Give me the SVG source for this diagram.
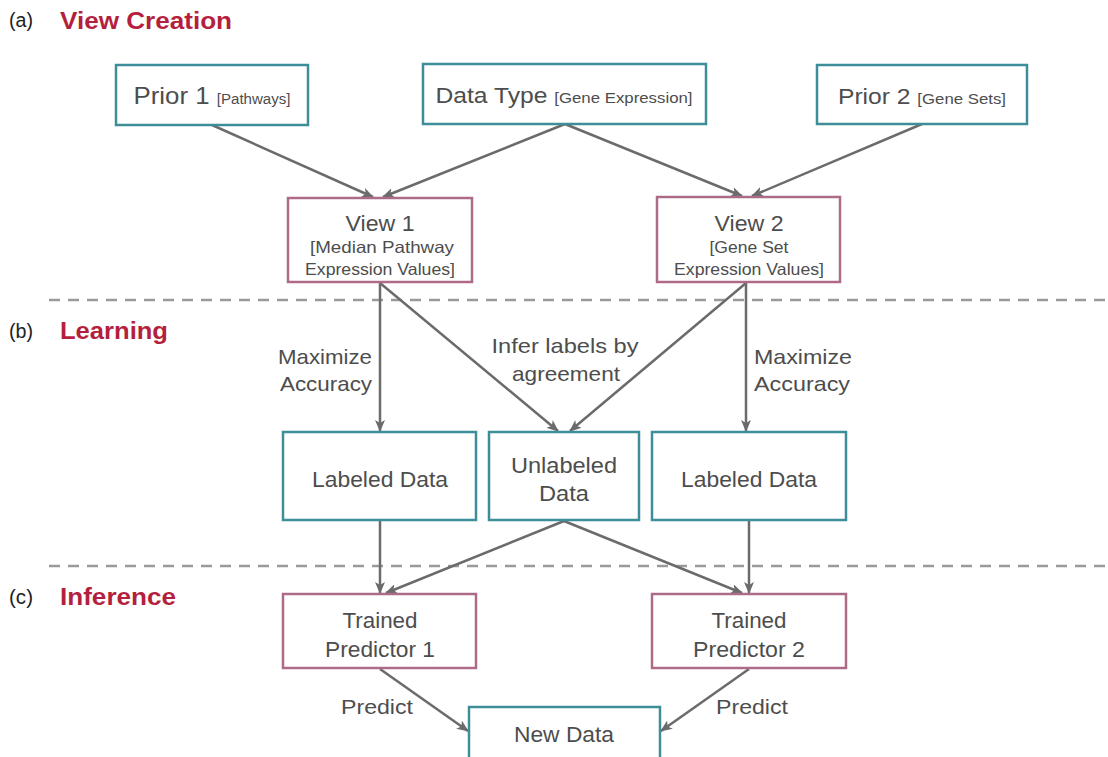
<svg xmlns="http://www.w3.org/2000/svg" width="1108" height="757" viewBox="0 0 1108 757">
<style>
text{font-family:"Liberation Sans",Arial,Helvetica,sans-serif;fill:#4d4d4d}
.t{font-size:22px;text-anchor:middle}
.s{font-size:15px}
.s2{font-size:14px}
.m{font-size:16.5px;text-anchor:middle}
.lbl{font-size:21px}
.sec{font-size:23px;font-weight:bold;fill:#b51f3e}
.pl{font-size:20px;fill:#222}
.teal{fill:#fff;stroke:#3e8e99;stroke-width:2.5}
.pink{fill:#fff;stroke:#ad6b87;stroke-width:2.5}
.c{stroke:#6b6b6b;stroke-width:2.5;fill:none;marker-end:url(#ah)}
.d{stroke:#9a9a9a;stroke-width:2.5;stroke-dasharray:11 8;fill:none}
</style>
<defs>
<marker id="ah" viewBox="0 0 12 10" refX="11" refY="5" markerWidth="12" markerHeight="10" markerUnits="userSpaceOnUse" orient="auto">
<path d="M0,0 L12,5 L0,10 L3,5 z" fill="#6b6b6b"/>
</marker>
</defs>
<rect width="1108" height="757" fill="#fff"/>
<g id="sections">
<text class="pl" x="9" y="27" textLength="24" lengthAdjust="spacingAndGlyphs">(a)</text>
<text class="sec" x="60" y="29" textLength="172" lengthAdjust="spacingAndGlyphs">View Creation</text>
<text class="pl" x="9" y="338" textLength="24" lengthAdjust="spacingAndGlyphs">(b)</text>
<text class="sec" x="60" y="339" textLength="108" lengthAdjust="spacingAndGlyphs">Learning</text>
<text class="pl" x="9" y="604" textLength="24" lengthAdjust="spacingAndGlyphs">(c)</text>
<text class="sec" x="60" y="605" textLength="116" lengthAdjust="spacingAndGlyphs">Inference</text>
<line class="d" x1="49" y1="300" x2="1108" y2="300"/>
<line class="d" x1="49" y1="566" x2="1108" y2="566"/>
</g>
<g id="connectors">
<line class="c" x1="212" y1="125" x2="373" y2="197"/>
<line class="c" x1="565" y1="124" x2="383" y2="197"/>
<line class="c" x1="565" y1="124" x2="742" y2="196"/>
<line class="c" x1="922" y1="124" x2="752" y2="196"/>
<line class="c" x1="380" y1="283" x2="380" y2="431"/>
<line class="c" x1="380" y1="283" x2="558" y2="431"/>
<line class="c" x1="746" y1="283" x2="570" y2="431"/>
<line class="c" x1="746" y1="283" x2="746" y2="431"/>
<line class="c" x1="380" y1="521" x2="380" y2="593"/>
<line class="c" x1="564" y1="521" x2="386" y2="593"/>
<line class="c" x1="564" y1="521" x2="742" y2="593"/>
<line class="c" x1="749" y1="521" x2="749" y2="593"/>
<line class="c" x1="380" y1="669" x2="468" y2="731"/>
<line class="c" x1="749" y1="669" x2="661" y2="731"/>
<text class="lbl" x="372" y="364" text-anchor="end" textLength="94" lengthAdjust="spacingAndGlyphs">Maximize</text>
<text class="lbl" x="372" y="391" text-anchor="end" textLength="92" lengthAdjust="spacingAndGlyphs">Accuracy</text>
<text class="lbl" x="754" y="364" textLength="98" lengthAdjust="spacingAndGlyphs">Maximize</text>
<text class="lbl" x="754" y="391" textLength="96" lengthAdjust="spacingAndGlyphs">Accuracy</text>
<text class="lbl" x="565" y="353" text-anchor="middle" textLength="147" lengthAdjust="spacingAndGlyphs">Infer labels by</text>
<text class="lbl" x="566" y="381" text-anchor="middle" textLength="108" lengthAdjust="spacingAndGlyphs">agreement</text>
<text class="lbl" x="377" y="714" text-anchor="middle" textLength="72" lengthAdjust="spacingAndGlyphs">Predict</text>
<text class="lbl" x="752" y="714" text-anchor="middle" textLength="72" lengthAdjust="spacingAndGlyphs">Predict</text>
</g>
<g id="prior1">
<rect class="teal" x="116" y="65" width="192" height="60"/>
<text class="t" x="212" y="104" style="font-size:24px" textLength="157" lengthAdjust="spacingAndGlyphs">Prior 1 <tspan class="s2">[Pathways]</tspan></text>
</g>
<g id="datatype">
<rect class="teal" x="423" y="64" width="283" height="60"/>
<text class="t" x="564" y="103" textLength="257" lengthAdjust="spacingAndGlyphs">Data Type <tspan class="s">[Gene Expression]</tspan></text>
</g>
<g id="prior2">
<rect class="teal" x="817" y="65" width="210" height="59"/>
<text class="t" x="922" y="104" textLength="168" lengthAdjust="spacingAndGlyphs">Prior 2 <tspan class="s">[Gene Sets]</tspan></text>
</g>
<g id="view1">
<rect class="pink" x="288" y="198" width="184" height="84"/>
<text class="t" x="380" y="231" textLength="69" lengthAdjust="spacingAndGlyphs">View 1</text>
<text class="m" x="382" y="253" textLength="144" lengthAdjust="spacingAndGlyphs">[Median Pathway</text>
<text class="m" x="380" y="275" textLength="150" lengthAdjust="spacingAndGlyphs">Expression Values]</text>
</g>
<g id="view2">
<rect class="pink" x="657" y="197" width="183" height="85"/>
<text class="t" x="749" y="231" textLength="69" lengthAdjust="spacingAndGlyphs">View 2</text>
<text class="m" x="749" y="253" textLength="79" lengthAdjust="spacingAndGlyphs">[Gene Set</text>
<text class="m" x="749" y="275" textLength="150" lengthAdjust="spacingAndGlyphs">Expression Values]</text>
</g>
<g id="labeled1">
<rect class="teal" x="283" y="432" width="193" height="88"/>
<text class="t" x="380" y="487" textLength="136" lengthAdjust="spacingAndGlyphs">Labeled Data</text>
</g>
<g id="unlabeled">
<rect class="teal" x="489" y="432" width="150" height="88"/>
<text class="t" x="564" y="473" textLength="106" lengthAdjust="spacingAndGlyphs">Unlabeled</text>
<text class="t" x="564" y="501" textLength="50" lengthAdjust="spacingAndGlyphs">Data</text>
</g>
<g id="labeled2">
<rect class="teal" x="652" y="432" width="194" height="88"/>
<text class="t" x="749" y="487" textLength="136" lengthAdjust="spacingAndGlyphs">Labeled Data</text>
</g>
<g id="predictor1">
<rect class="pink" x="283" y="594" width="193" height="74"/>
<text class="t" x="380" y="628" textLength="75" lengthAdjust="spacingAndGlyphs">Trained</text>
<text class="t" x="380" y="657" textLength="110" lengthAdjust="spacingAndGlyphs">Predictor 1</text>
</g>
<g id="predictor2">
<rect class="pink" x="652" y="594" width="194" height="74"/>
<text class="t" x="749" y="628" textLength="75" lengthAdjust="spacingAndGlyphs">Trained</text>
<text class="t" x="749" y="657" textLength="112" lengthAdjust="spacingAndGlyphs">Predictor 2</text>
</g>
<g id="newdata">
<rect class="teal" x="469" y="707" width="191" height="60"/>
<text class="t" x="564" y="742" textLength="100" lengthAdjust="spacingAndGlyphs">New Data</text>
</g>
</svg>
